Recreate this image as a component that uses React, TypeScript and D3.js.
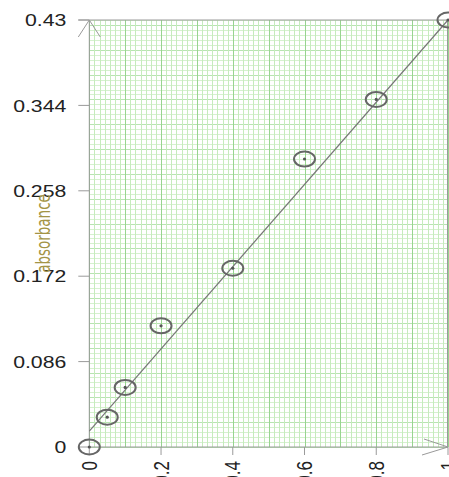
import React, { useEffect, useRef } from 'react';
import * as d3 from 'd3';

// concentration (x) vs absorbance (y)
const concentrations = [0, 0.05, 0.1, 0.2, 0.4, 0.6, 0.8, 1];
const absorbances = [0, 0.03, 0.06, 0.122, 0.18, 0.29, 0.35, 0.43];

const xTickValues = [0, 0.2, 0.4, 0.6, 0.8, 1];
const xTickLabels = ['0', '0.2', '0.4', '0.6', '0.8', '1'];
const yTickValues = [0, 0.086, 0.172, 0.258, 0.344, 0.43];
const yTickLabels = ['0', '0.086', '0.172', '0.258', '0.344', '0.43'];

// fitted line: [x, y] ends
const fitX = [0, 1];
const fitY = [0.016, 0.43];

const yLabel = 'absorbance';

const draw = (el: SVGSVGElement) => {
  const width = 449, height = 477;
  const margin = { top: 20, right: 1, bottom: 30, left: 89.3 };
  const stretch = 1.25; // picture is a bit wider than tall

  const svg = d3.select(el);
  svg.selectAll('*').remove();

  const x = d3.scaleLinear().domain([0, 1]).range([margin.left, width - margin.right]);
  const y = d3.scaleLinear().domain([0, 0.43]).range([height - margin.bottom, margin.top]);

  const [x0, x1] = x.range();
  const [y0, y1] = y.range();

  /**
  * graph paper
  **/
  const grid = svg.append('g').attr('shape-rendering', 'crispEdges');

  const xMinor = d3.range(0, 1.0001, 0.1 / 7);
  const yMinor = d3.range(0, 0.4301, 0.005);

  grid.selectAll('.hy').data(yMinor).enter().append('line')
    .attr('x1', x0).attr('x2', x1)
    .attr('y1', d => Math.round(y(d)) + 0.5).attr('y2', d => Math.round(y(d)) + 0.5)
    .attr('stroke', (d, i) => i % 5 === 0 ? '#b8e4b1' : '#d6f1cf')
    .attr('stroke-width', 1);

  grid.selectAll('.vx').data(xMinor).enter().append('line')
    .attr('x1', d => Math.round(x(d)) + 0.5).attr('x2', d => Math.round(x(d)) + 0.5)
    .attr('y1', y0).attr('y2', y1)
    .attr('stroke', (d, i) => i % 7 === 0 ? '#98d490' : '#c6ebbd')
    .attr('stroke-width', 1);

  /**
  * axes
  **/
  const axisColor = '#9a9a9a';
  const ax = svg.append('g').attr('stroke', axisColor).attr('fill', 'none').attr('stroke-width', 1);

  ax.append('line').attr('x1', x0).attr('x2', x0).attr('y1', y0).attr('y2', y1);
  ax.append('line').attr('x1', x0).attr('x2', x1).attr('y1', y0).attr('y2', y0);
  ax.append('line').attr('x1', x0 - 11).attr('x2', x1).attr('y1', y1).attr('y2', y1);
  ax.append('line').attr('x1', x1 - 0.5).attr('x2', x1 - 0.5).attr('y1', y0).attr('y2', y1);

  // arrow heads
  ax.append('path').attr('d', `M${x0 - 11},${y1 + 17} L${x0},${y1} L${x0 + 11},${y1 + 17}`);
  ax.append('path').attr('d', `M${x1 - 24},${y0 - 8} L${x1},${y0} L${x1 - 26},${y0 + 8}`);

  ax.selectAll('.yt').data(yTickValues).enter().append('line')
    .attr('x1', x0 - 11).attr('x2', x0)
    .attr('y1', d => y(d)).attr('y2', d => y(d));

  ax.selectAll('.xt').data(xTickValues).enter().append('line')
    .attr('x1', d => x(d)).attr('x2', d => x(d))
    .attr('y1', y0).attr('y2', y0 + 8);

  /**
  * labels
  **/
  svg.selectAll('.ylab').data(yTickValues).enter().append('text')
    .attr('transform', d => `translate(${x0 - 23},${y(d)}) scale(${stretch},1)`)
    .attr('dy', '0.36em')
    .attr('text-anchor', 'end')
    .attr('font-family', 'Liberation Sans, Arial, sans-serif')
    .attr('font-size', 17)
    .attr('fill', '#222')
    .text((d, i) => yTickLabels[i]);

  svg.selectAll('.xlab').data(xTickValues).enter().append('text')
    .attr('transform', d => `translate(${x(d)},${y0 + 14}) scale(${stretch},1) rotate(-90)`)
    .attr('dy', '0.36em')
    .attr('text-anchor', 'end')
    .attr('font-family', 'Liberation Sans, Arial, sans-serif')
    .attr('font-size', 17)
    .attr('fill', '#222')
    .text((d, i) => xTickLabels[i]);

  svg.append('text')
    .attr('transform', `translate(43,${(y0 + y1) / 2}) scale(${stretch},1) rotate(-90)`)
    .attr('dy', '0.36em')
    .attr('text-anchor', 'middle')
    .attr('font-family', 'Liberation Sans Narrow, DejaVu Sans Condensed, sans-serif')
    .attr('font-size', 15)
    .attr('fill', '#a39446')
    .text(yLabel);

  /**
  * fit line
  **/
  svg.append('line')
    .attr('x1', x(fitX[0])).attr('y1', y(fitY[0]))
    .attr('x2', x(fitX[1])).attr('y2', y(fitY[1]))
    .attr('stroke', '#777').attr('stroke-width', 1.2);

  /**
  * points
  **/
  const pts = svg.selectAll('.pt').data(concentrations).enter().append('g')
    .attr('transform', (d, i) => `translate(${x(d)},${y(absorbances[i])})`);

  pts.append('ellipse')
    .attr('rx', 10.5).attr('ry', 7.5)
    .attr('fill', 'none').attr('stroke', '#666').attr('stroke-width', 2);

  pts.append('circle').attr('r', 1.6).attr('fill', '#555');
};

export default function App() {
  const ref = useRef<SVGSVGElement>(null);

  useEffect(() => {
    if (ref.current) draw(ref.current);
  }, []);

  return (
    <svg
      ref={ref}
      width={449}
      height={477}
      style={{ position: 'absolute', left: 0, top: 0, background: '#fff' }}
    />
  );
}
